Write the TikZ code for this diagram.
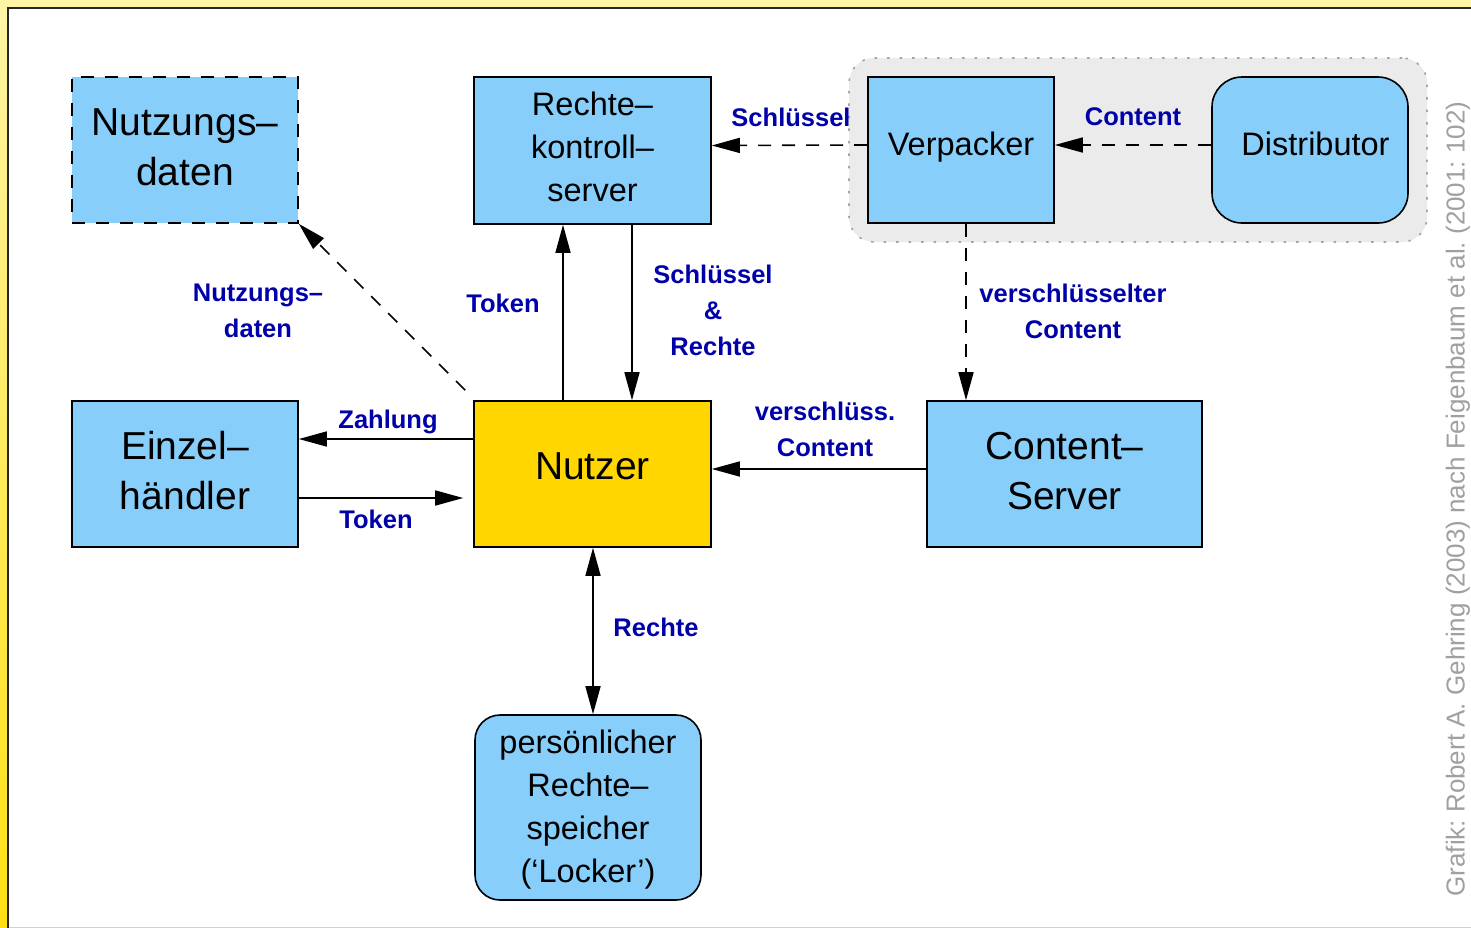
\documentclass[tikz,border=0pt]{standalone}
\usepackage{fontspec}
\setmainfont{Liberation Sans}
\usetikzlibrary{arrows.meta,calc}
\frenchspacing
\definecolor{boxblue}{RGB}{135,206,250}
\definecolor{nutzergold}{RGB}{255,214,0}
\definecolor{lblue}{RGB}{0,0,170}
\definecolor{grpgray}{RGB}{235,235,235}
\definecolor{grpborder}{RGB}{165,165,165}
\definecolor{ytop}{RGB}{255,245,165}
\definecolor{ybot}{RGB}{255,224,20}
\definecolor{credit}{RGB}{160,160,160}
\tikzset{
  box/.style={draw=black, line width=1.6pt, fill=boxblue, inner sep=0pt, align=center, font=\fontsize{39}{50}\selectfont},
  mbox/.style={box, font=\fontsize{32.5}{43}\selectfont},
  lbl/.style={text=lblue, align=center, inner sep=0pt, font=\fontsize{25.5}{36}\selectfont\bfseries},
  conn/.style={line width=1.6pt, -{Triangle[length=28pt,width=15pt]}},
  dconn/.style={conn, dash pattern=on 13pt off 11pt},
}
\begin{document}
\begin{tikzpicture}[x=1pt,y=-1pt]
\useasboundingbox (0,0) rectangle (1471,927);
% frame
\shade[top color=ytop, bottom color=ybot] (0,0) rectangle (1471,927);
\fill[white] (8,8) rectangle (1471,927);
\draw[line width=2.5pt, black!85] (8,930) -- (8,8) -- (1474,8);
% group
\node[draw=grpborder, line width=1.6pt, dash pattern=on 2.5pt off 10pt, fill=grpgray, rounded corners=25pt, minimum width=578pt, minimum height=184pt, inner sep=0pt] (grp) at (1138,150) {};
% boxes
\node[box, dash pattern=on 13pt off 11pt, text depth=6pt, minimum width=226pt, minimum height=146pt] (nd) at (185,150) {Nutzungs--\\daten};
\node[mbox, text depth=8pt, minimum width=237pt, minimum height=147pt] (rk) at (592.5,150.5) {Rechte--\\kontroll--\\server};
\node[mbox, text depth=12pt, minimum width=186pt, minimum height=146pt] (vp) at (961,150) {Verpacker};
\node[mbox, text depth=12pt, rounded corners=30pt, minimum width=196pt, minimum height=146pt] (dist) at (1310,150) {\hspace*{11pt}Distributor};
\node[box, text depth=7pt, minimum width=226pt, minimum height=146pt] (eh) at (185,474) {Einzel--\\händler};
\node[box, text depth=16pt, fill=nutzergold, minimum width=237pt, minimum height=146pt] (nu) at (592.5,474) {Nutzer};
\node[box, text depth=7pt, minimum width=275pt, minimum height=146pt] (cs) at (1064.5,474) {Content--\\Server};
\node[mbox, text depth=2pt, rounded corners=25pt, minimum width=226pt, minimum height=185pt] (lk) at (588,807.5) {persönlicher\\Rechte--\\speicher\\(‘Locker’)};
% connectors
\draw[dconn] ([yshift=5pt]vp.west) -- ([yshift=5pt]rk.east);
\draw[dconn] ([yshift=5pt]dist.west) -- ([yshift=5pt]vp.east);
\coordinate (vpb) at ([xshift=5pt]vp.south);
\draw[dconn] (vpb) -- (vpb |- cs.north);
\draw[conn] ([xshift=-29.5pt]nu.north) -- ([xshift=-29.5pt]rk.south);
\draw[conn] ([xshift=39.5pt]rk.south) -- ([xshift=39.5pt]nu.north);
\draw[dconn] ([shift={(-8pt,10pt)}]nu.north west) -- (nd.south east);
\draw[conn] ([yshift=35pt]nu.west) -- ([yshift=35pt]eh.east);
\draw[conn] ([yshift=-24pt]eh.east) -- ([yshift=-24pt,xshift=-10pt]nu.west);
\draw[conn] ([yshift=5pt]cs.west) -- ([yshift=5pt]nu.east);
\draw[line width=1.6pt, {Triangle[length=28pt,width=15pt]}-{Triangle[length=28pt,width=15pt]}] ([xshift=0.5pt]nu.south) -- ([xshift=0.5pt]nu.south |- lk.north);
% labels
\node[lbl] (l1) at (791,117) {Schlüssel};
\node[lbl] (l2) at (1133,117) {Content};
\node[lbl] (l3) at (1073,311) {verschlüsselter\\Content};
\node[lbl] (l4) at (503,303) {Token};
\node[lbl] (l5) at (713,310) {Schlüssel\\\&\\Rechte};
\node[lbl] (l6) at (258,311) {Nutzungs--\\daten};
\node[lbl] (l7) at (388,422) {Zahlung};
\node[lbl] (l8) at (376,519) {Token};
\node[lbl] (l9) at (825,429) {verschlüss.\\Content};
\node[lbl] (l10) at (656,627) {Rechte};
% credit
\node[text=credit, rotate=90, inner sep=0pt, font=\fontsize{26}{30}\selectfont] (cr) at (1458,499) {Grafik: Robert A. Gehring (2003) nach Feigenbaum et al. (2001: 102)};
\end{tikzpicture}
\end{document}
